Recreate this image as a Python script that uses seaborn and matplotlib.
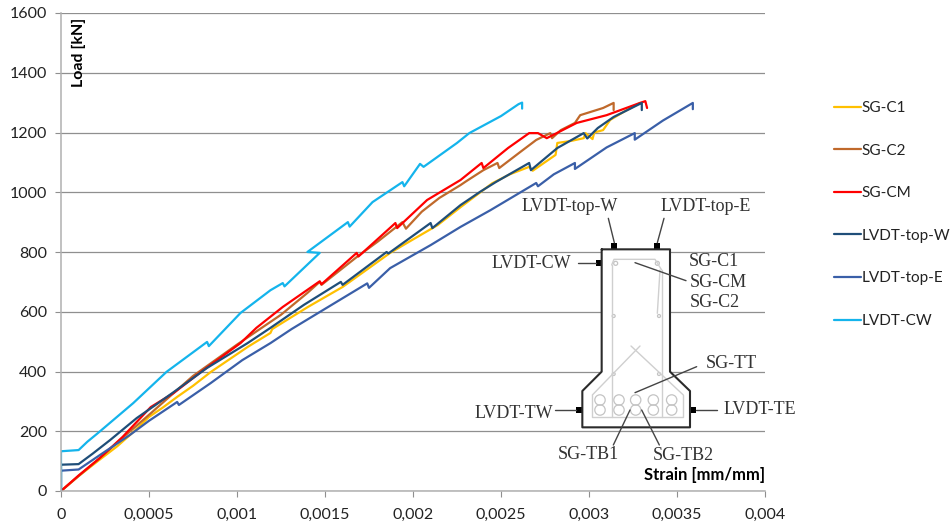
import matplotlib
matplotlib.use('Agg')
import matplotlib.pyplot as plt
import pandas as pd
import seaborn as sns

# Strain / load curves
c1_x = [0, 0.0001, 0.00022, 0.00032, 0.00041, 0.0005, 0.00058, 0.00066, 0.00075, 0.00085, 0.00095, 0.00106, 0.00119, 0.0012,
        0.0014, 0.0016, 0.00174, 0.00187, 0.002, 0.00214, 0.00227, 0.00245, 0.00255, 0.00266, 0.00268, 0.00281, 0.00282,
        0.0029, 0.00297, 0.00298, 0.00302, 0.00303, 0.00308, 0.00312, 0.0032, 0.00329]
c1_y = [0, 50, 105, 150, 197, 248, 280, 315, 352, 398, 438, 482, 529, 542,
        615, 683, 742, 797, 842, 890, 950, 1030, 1060, 1085, 1072, 1125, 1165,
        1172, 1181, 1198, 1178, 1200, 1208, 1242, 1270, 1299]

c2_x = [0, 0.0002, 0.00035, 0.0005, 0.00075, 0.001, 0.00125, 0.0014, 0.00147, 0.00148, 0.00168, 0.0018, 0.00194, 0.00196,
        0.00205, 0.00215, 0.00227, 0.0023, 0.0024, 0.00248, 0.00249, 0.00261, 0.0027, 0.00278, 0.00279, 0.00284, 0.00292,
        0.00295, 0.00308, 0.00314, 0.00314]
c2_y = [0, 100, 178, 255, 385, 490, 590, 663, 700, 690, 783, 835, 900, 878,
        935, 981, 1024, 1036, 1074, 1098, 1081, 1135, 1175, 1198, 1181, 1208, 1232,
        1258, 1282, 1299, 1275]

cm_x = [0, 0.0001, 0.00022, 0.00035, 0.00051, 0.00064, 0.00081, 0.00102, 0.00111, 0.00126, 0.00147, 0.00148, 0.00168, 0.00169,
        0.0019, 0.00191, 0.00208, 0.00227, 0.00239, 0.0024, 0.00254, 0.00266, 0.00271, 0.00276, 0.00285, 0.00293, 0.0031,
        0.00329, 0.00332, 0.00333]
cm_y = [0, 52, 110, 181, 281, 328, 405, 495, 546, 616, 702, 692, 797, 785,
        897, 880, 974, 1041, 1098, 1081, 1148, 1198, 1198, 1181, 1208, 1232, 1258,
        1299, 1305, 1282]

top_w_x = [0, 0, 0.0001, 0.00018, 0.00028, 0.00043, 0.00053, 0.00064, 0.00083, 0.00106, 0.00119, 0.00138, 0.00159, 0.0016,
           0.00185, 0.00186, 0.0021, 0.00211, 0.00227, 0.00238, 0.00247, 0.00266, 0.00267, 0.00282, 0.00297, 0.00299, 0.00305,
           0.00314, 0.0033, 0.0033]
top_w_y = [0, 88, 90, 125, 171, 244, 285, 331, 412, 495, 546, 623, 700, 690,
           800, 795, 897, 880, 957, 1001, 1034, 1098, 1074, 1148, 1198, 1180, 1215,
           1252, 1299, 1275]

top_e_x = [0, 0, 0.0001, 0.00022, 0.00039, 0.0005, 0.00066, 0.00067, 0.00085, 0.00103, 0.00119, 0.00131, 0.00147, 0.00174, 0.00175,
           0.00187, 0.0021, 0.00227, 0.00244, 0.0027, 0.00271, 0.0028, 0.00292, 0.00292, 0.0031, 0.00326, 0.00326, 0.00342, 0.00359, 0.00359]
top_e_y = [0, 68, 72, 120, 187, 235, 298, 288, 361, 438, 495, 542, 599, 695, 680,
           746, 823, 884, 940, 1031, 1020, 1060, 1098, 1078, 1150, 1198, 1176, 1240, 1299, 1278]

cw_x = [0, 0, 0.0001, 0.00015, 0.00021, 0.00041, 0.0006, 0.00083, 0.00084, 0.00102, 0.00119, 0.00126, 0.00127, 0.00147, 0.0014,
        0.00163, 0.00164, 0.00177, 0.00194, 0.00195, 0.00204, 0.00206, 0.00225, 0.00232, 0.0025, 0.0026, 0.00262, 0.00262]
cw_y = [0, 133, 137, 165, 194, 294, 399, 499, 485, 596, 672, 696, 685, 797, 800,
        900, 885, 967, 1034, 1020, 1095, 1085, 1165, 1198, 1255, 1295, 1300, 1280]

series_names = ['SG-C1', 'SG-C2', 'SG-CM', 'LVDT-top-W', 'LVDT-top-E', 'LVDT-CW']
series_x = [c1_x, c2_x, cm_x, top_w_x, top_e_x, cw_x]
series_y = [c1_y, c2_y, cm_y, top_w_y, top_e_y, cw_y]
series_colors = ['#FFC000', '#C0692B', '#FF0000', '#1F4E79', '#3A5FA8', '#14B4EC']

x_ticks = [0, 0.0005, 0.001, 0.0015, 0.002, 0.0025, 0.003, 0.0035, 0.004]
x_labels = ['0', '0,0005', '0,001', '0,0015', '0,002', '0,0025', '0,003', '0,0035', '0,004']
y_ticks = [0, 200, 400, 600, 800, 1000, 1200, 1400, 1600]

W, H = 953, 526
sns.set_theme(style='white')
plt.rcParams['font.family'] = ['Lato', 'DejaVu Sans']

rows = []
for name, xs, ys in zip(series_names, series_x, series_y):
    for i, (a, b) in enumerate(zip(xs, ys)):
        rows.append({'Sensor': name, 'order': i, 'strain': a, 'load': b})
df = pd.DataFrame(rows)

fig = plt.figure(figsize=(W / 100, H / 100), dpi=100)
ax = fig.add_axes([61 / W, 1 - 491 / H, 704 / W, 478 / H])

sns.lineplot(data=df, x='strain', y='load', hue='Sensor', hue_order=series_names,
             palette=series_colors, units='Sensor', estimator=None, sort=False,
             linewidth=1.6, ax=ax)

ax.set_xlim(0, 0.004)
ax.set_ylim(0, 1600)
ax.set_xticks(x_ticks)
ax.set_xticklabels(x_labels)
ax.set_yticks(y_ticks)
ax.set_xlabel('')
ax.set_ylabel('')
ax.yaxis.grid(True, color='#8f8f8f', linewidth=0.9)
ax.set_axisbelow(True)
ax.tick_params(axis='x', length=4, width=0.8, color='#8f8f8f', labelsize=11.5, labelcolor='#222222', pad=8.5, bottom=True)
ax.tick_params(axis='y', length=4, width=0.8, color='#8f8f8f', labelsize=11.5, labelcolor='#222222', pad=6, left=True)
sns.despine(ax=ax, top=True, right=True)
for s in ['left', 'bottom']:
    ax.spines[s].set_color('#b0b0b0')
    ax.spines[s].set_linewidth(1.1)

sns.move_legend(ax, 'upper left', bbox_to_anchor=(834 / W, 1 - 101 / H), bbox_transform=fig.transFigure,
                title=None, frameon=False, fontsize=11, labelspacing=1.87, handlelength=1.75,
                handletextpad=0.05, borderpad=0, borderaxespad=0)
for t in ax.get_legend().get_texts():
    t.set_color('#222222')

# Cross-section sketch, drawn in picture pixels on a clear overlay
ov = fig.add_axes([0, 0, 1, 1])
ov.set_xlim(0, W)
ov.set_ylim(H, 0)
ov.axis('off')
ov.patch.set_alpha(0)


def px(zx, zy):
    return 470 + zx / 3, 190 + zy / 3


def seg(points, color='#333333', lw=1.0):
    xy = [px(*p) for p in points]
    ov.plot([p[0] for p in xy], [p[1] for p in xy], color=color, lw=lw, solid_capstyle='round')


outline = [(395, 178), (600, 178), (600, 545), (660, 603), (660, 712), (337, 712), (337, 603), (395, 545), (395, 178)]
ov.fill([px(*p)[0] for p in outline], [px(*p)[1] for p in outline], color='white', zorder=0)

# reinforcement
bar = '#cfcfcf'
seg([(367, 615), (367, 680), (640, 680), (640, 615)], bar)
seg([(367, 615), (510, 468)], bar)
seg([(640, 615), (483, 468)], bar)
seg([(425, 225), (425, 680)], bar)
seg([(575, 240), (575, 680)], bar)
seg([(425, 225), (432, 208), (555, 208), (575, 240)], bar)
seg([(570, 240), (562, 370)], bar)
for cx in [390, 447, 497, 550, 605]:
    for cy in [630, 660]:
        ov.add_patch(plt.Circle(px(cx, cy), 5.2, fill=False, ec='#c4c4c4', lw=0.9))
for cx, cy, r in [(437, 220, 2), (562, 220, 2), (431, 378, 1.5), (567, 378, 1.5), (431, 552, 1.5), (567, 552, 1.5)]:
    ov.add_patch(plt.Circle(px(cx, cy), r, fill=False, ec='#c4c4c4', lw=0.9))

seg(outline, '#2b2b2b', 1.5)

# leader lines
leaders = [[(433, 158), (415, 85)], [(562, 158), (582, 85)], [(325, 218), (378, 218)], [(255, 660), (318, 660)],
           [(742, 660), (678, 660)], [(495, 218), (648, 272)], [(495, 608), (680, 530)], [(480, 660), (430, 765)],
           [(515, 660), (568, 765)]]
for l in leaders:
    seg(l, '#444444', 1.0)

# sensors
for cx, cy in [(433, 167), (562, 167), (386, 218), (326, 660), (668, 660)]:
    x0, y0 = px(cx, cy)
    ov.add_patch(plt.Rectangle((x0 - 3, y0 - 3), 6, 6, color='black', lw=0))

labels = [('LVDT-top-W', 298, 50), ('LVDT-top-E', 708, 50), ('LVDT-CW', 184, 220), ('SG-C1', 733, 215),
          ('SG-CM', 745, 277), ('SG-C2', 735, 338), ('SG-TT', 784, 522), ('LVDT-TW', 130, 670),
          ('LVDT-TE', 868, 660), ('SG-TB1', 355, 793), ('SG-TB2', 640, 797)]
for txt, zx, zy in labels:
    x0, y0 = px(zx, zy)
    ov.text(x0, y0, txt, family='Liberation Serif', fontsize=13, color='#333333', ha='center', va='center')

ov.text(704.5, 475, 'Strain [mm/mm]', fontsize=12, fontweight='bold', color='black', ha='center', va='center')
ov.text(79, 52, 'Load [kN]', fontsize=11.5, fontweight='bold', color='black', rotation=90, ha='center', va='center')

fig.savefig('out.png', dpi=100, facecolor='white')
